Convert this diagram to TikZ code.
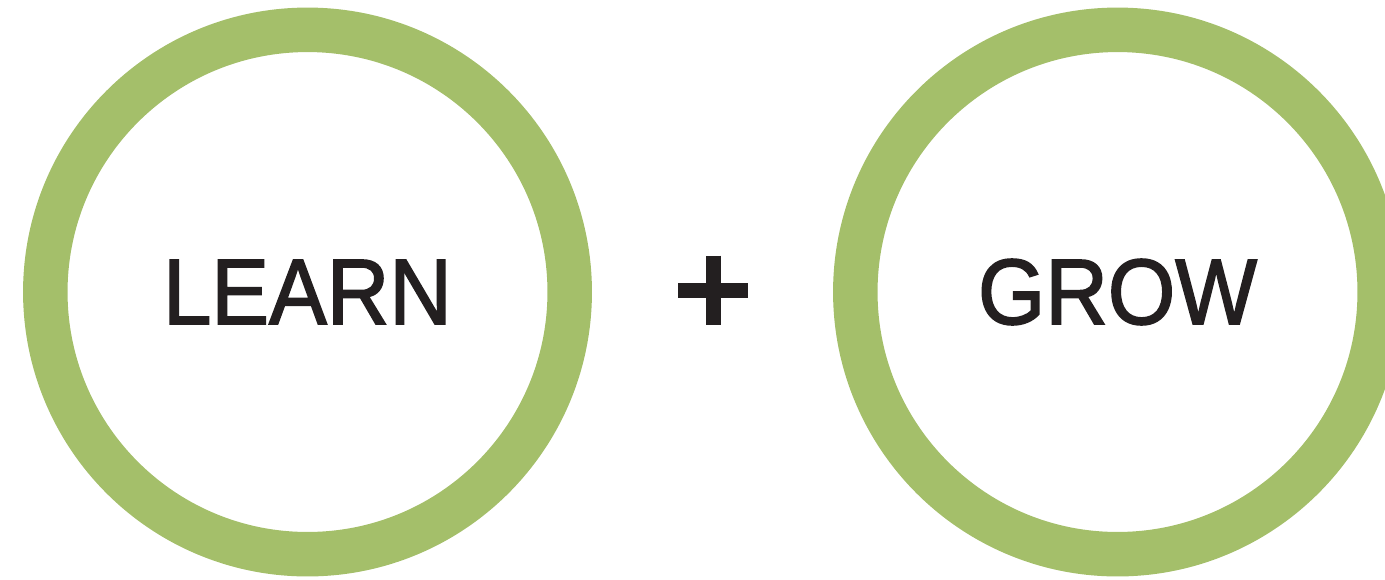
\documentclass[tikz,border=0pt]{standalone}
\usepackage{fontspec}
\setmainfont{Liberation Sans}[FakeStretch=0.93, FakeBold=1.8]
\definecolor{leafgreen}{RGB}{164,191,106}
\definecolor{inkblack}{RGB}{35,31,32}

\begin{document}
\begin{tikzpicture}[x=0.02cm, y=-0.02cm,
  ring/.style={circle, draw=leafgreen, line width=0.89cm, minimum size=10.49cm,
    inner sep=0pt, text=inkblack, font=\fontsize{53}{60}\selectfont}]
  \useasboundingbox (0,0) rectangle (1385,579);
  \node[ring] (learn) at (307.5,292) {LEARN};
  \node[ring] (grow) at (1117.5,292) {GROW};
  \node[inner sep=0pt, minimum size=1.38cm] (plus) at (713,290.5) {};
  \draw[inkblack, line width=0.3cm] (plus.west) -- (plus.east)
    (plus.north) -- (plus.south);
\end{tikzpicture}
\end{document}
